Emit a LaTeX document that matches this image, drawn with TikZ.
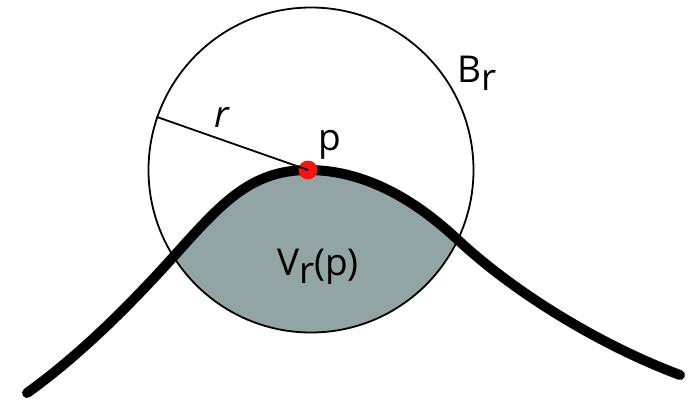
\documentclass[tikz,border=0pt]{standalone}
\usepackage{fontspec}
\setmainfont{Open Sans}
\definecolor{regiongray}{RGB}{146,164,164}
\definecolor{dotred}{RGB}{240,22,22}
\tikzset{
  curveline/.style={line width=10pt, line cap=round, line join=round},
  thinline/.style={line width=1.8pt},
  lbl/.style={inner sep=0pt, font=\fontsize{37}{42}\selectfont},
}
\begin{document}
\begin{tikzpicture}[x=1pt, y=-1pt]
\useasboundingbox (0,0) rectangle (697,400);
\def\curvepath{(27,393) .. controls (80,355) and (130,305) .. (175,255) .. controls (220,205) and (250,170) .. (308,170) .. controls (360,170) and (410,195) .. (458,240) .. controls (515,293) and (600,345) .. (680,375)}
% shaded region V_r(p)
\begin{scope}
  \clip (311,170) circle [radius=162.5pt];
  \fill[regiongray] \curvepath -- (700,420) -- (0,420) -- cycle;
\end{scope}
% ball B_r
\node[circle, draw, thinline, minimum size=325pt, inner sep=0pt] (ball) at (311,170) {};
% curve
\draw[curveline] \curvepath;
% point p
\node[circle, fill=dotred, minimum size=19pt, inner sep=0pt] (p) at (308,170) {};
% radius
\draw[thinline] (p.center) -- (ball.161);
% labels
\node[lbl, anchor=base west] (Blabel) at (457,82) {B\raisebox{-8pt}{r}};
\node[lbl, anchor=base] (rlabel) at (222,127) {\itshape r};
\node[lbl, anchor=base] (plabel) at (330,150) {p};
\node[lbl, anchor=base west] (Vlabel) at (277,275) {V\raisebox{-8pt}{r}(p)};
\end{tikzpicture}
\end{document}
